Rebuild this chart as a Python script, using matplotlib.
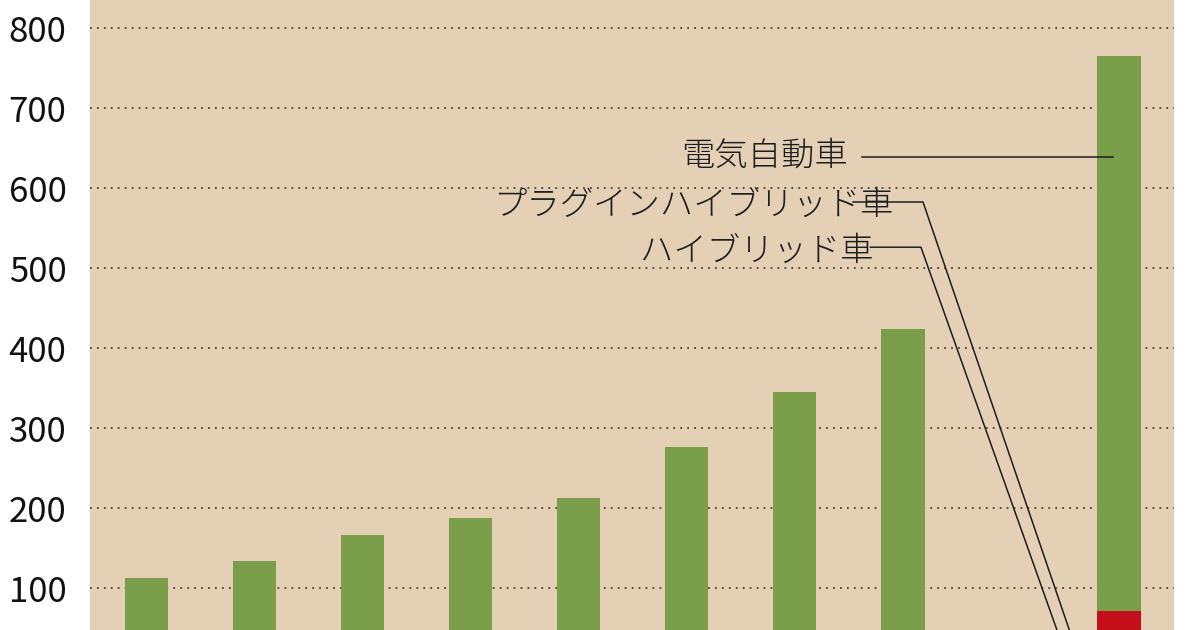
import numpy as np
import matplotlib.pyplot as plt

plt.rcParams['font.family'] = ['Noto Sans CJK JP', 'DejaVu Sans']
plt.rcParams['lines.scale_dashes'] = False

# bar slots (the 9th slot is empty in the chart)
slots = np.arange(10)
hybrid = [0, 0, 0, 0, 0, 0, 0, 0, np.nan, 25]
phev = [0, 0, 0, 0, 0, 0, 0, 0, np.nan, 46]
ev = [113, 134, 166, 187, 213, 276, 345, 424, np.nan, 694]
yticks = [100, 200, 300, 400, 500, 600, 700, 800]

labels = ['電気自動車', 'プラグインハイブリッド車', 'ハイブリッド車']

bg = '#e3d0b5'
green = '#7a9e4a'
red = '#c40e1a'
ink = '#1e1e1e'

fig = plt.figure(figsize=(12, 6.3), dpi=100)
ax = fig.add_axes([90 / 1200, 0, 1084 / 1200, 1])
ax.set_facecolor(bg)

h = np.nan_to_num(hybrid)
p = np.nan_to_num(phev)
ax.bar(slots, h, width=0.4, color='#e0a030', zorder=2)
ax.bar(slots, p, bottom=h, width=0.4, color=red, zorder=2)
ax.bar(slots, ev, bottom=h + p, width=0.4, color=green, zorder=2)

ax.set_xlim(-0.52, 9.508)
ax.set_ylim(47.5, 835)
ax.set_xticks([])
ax.set_yticks(yticks)
ax.set_yticklabels([str(v) for v in yticks], fontsize=25, color='#111111')
ax.tick_params(axis='y', length=0, pad=17)
ax.yaxis.grid(True, color='#4a4038', linewidth=1.3, linestyle=(0, (1.3, 3.7)), zorder=1)
ax.set_axisbelow(True)
for s in ax.spines.values():
    s.set_visible(False)

# labels with leader lines
tkw = dict(ha='right', va='center', fontsize=24, color=ink, fontweight='light', zorder=5)
ax.text(6.49, 639, labels[0], **tkw)
ax.plot([6.62, 8.94], [639, 639], color=ink, lw=1.1, zorder=4)

ax.text(6.91, 578, labels[1], **tkw)
ax.plot([6.54, 7.186, 8.66], [582.5, 582.5, 0], color=ink, lw=1.1, zorder=4)

ax.text(6.73, 521, labels[2], **tkw)
ax.plot([6.70, 7.167, 8.55], [526, 526, 0], color=ink, lw=1.1, zorder=4)

fig.savefig('out.png', dpi=100, facecolor='white')
